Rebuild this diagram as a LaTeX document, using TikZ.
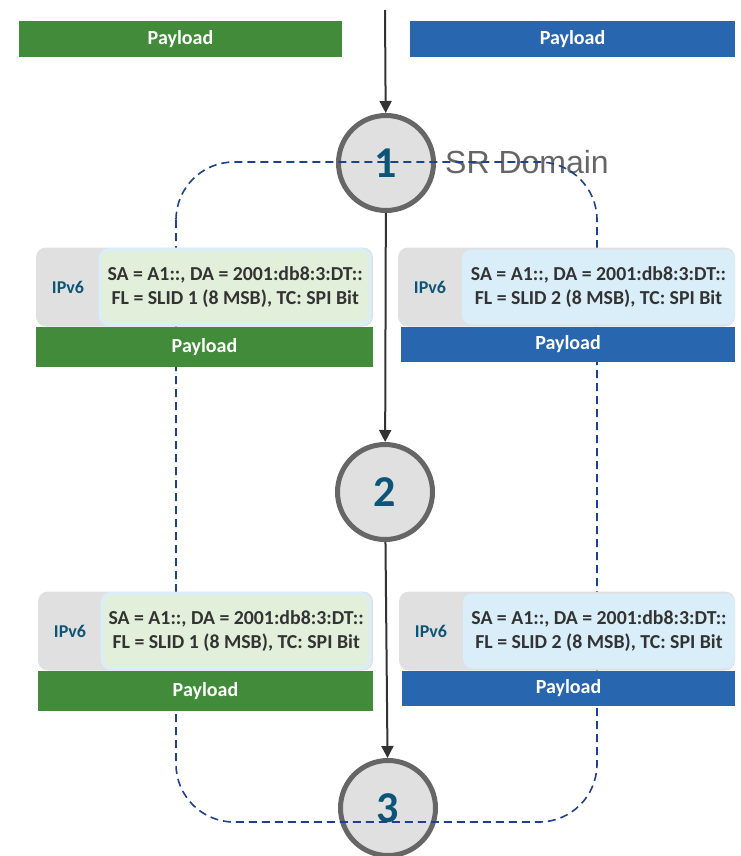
\documentclass[tikz,border=0pt]{standalone}
\usepackage{fontspec}
\setmainfont{Carlito}
\newfontfamily\arialfont{Liberation Sans}
\usetikzlibrary{arrows.meta,positioning}
\definecolor{verde}{HTML}{418B3A}
\definecolor{azul}{HTML}{2966B0}
\definecolor{grisclaro}{HTML}{E0E0E0}
\definecolor{borde}{HTML}{666666}
\definecolor{petroleo}{HTML}{0C5577}
\definecolor{verdeclaro}{HTML}{E2EFDA}
\definecolor{celeste}{HTML}{D9EEF8}
\definecolor{linea}{HTML}{1F3F8F}
\definecolor{texto}{HTML}{333333}

\begin{document}
\begin{tikzpicture}[x=1pt, y=-1pt,
        nodo/.style={circle, draw=borde, line width=5pt, fill=grisclaro, minimum size=95pt, inner sep=0pt, text=petroleo, font=\fontsize{44}{44}\selectfont\bfseries},
        carga/.style={inner sep=0pt, minimum height=#1, text=white, font=\fontsize{20}{20}\selectfont\bfseries},
        cabecera/.style={fill=grisclaro, rounded corners=10pt, inner sep=0pt, minimum height=79pt},
        campos/.style={rounded corners=9pt, inner sep=0pt, minimum height=75pt, align=center, text=texto, font=\fontsize{19.8}{24}\selectfont\bfseries},
        version/.style={inner sep=0pt, minimum width=64pt, text=petroleo, font=\fontsize{18}{18}\selectfont\bfseries},
        flecha/.style={-{Triangle[length=12pt, width=12pt]}, line width=2pt, draw=texto},
        dominio/.style={draw=linea, line width=1.6pt, dash pattern=on 8pt off 5pt, rounded corners=58pt}
    ]
        \useasboundingbox (0,0) rectangle (740,856);

        \node[carga=36pt, fill=verde, minimum width=323pt] (pv0) at (180.5,39) {Payload};
        \node[carga=36pt, fill=azul, minimum width=325pt] (pa0) at (572.5,39) {Payload};

        \coordinate (inicio) at (385,10);
        \node[nodo] (n1) at (386,163) {1};
        \node[nodo] (n2) at (385,492) {2};
        \node[nodo] (n3) at (388,808) {3};
        \node[anchor=base west, inner sep=0pt, text=borde, font=\arialfont\fontsize{32}{32}\selectfont] (dom) at (445,173) {SR Domain};

        \draw[flecha] (inicio) -- (n1);
        \draw[flecha] (n1) -- (n2);
        \draw[flecha] (n2) -- (n3);

        \draw[dominio] (176,162) rectangle (597,822);

        \node[cabecera, minimum width=337pt] (hv1) at (204.5,287) {};
        \node[campos, fill=verdeclaro, draw=celeste, line width=3pt, minimum width=270pt, anchor=east] (fv1) at ([xshift=-1.5pt]hv1.east) {SA = A1::, DA = 2001:db8:3:DT::\\FL = SLID 1 (8 MSB), TC: SPI Bit};
        \node[version, right=0pt of hv1.west] (iv1) {IPv6};
        \node[carga=40pt, fill=verde, minimum width=337pt, below=0pt of hv1] (pv1) {Payload};

        \node[cabecera, minimum width=337pt] (ha1) at (566.5,287) {};
        \node[campos, fill=celeste, minimum width=273pt, anchor=east] (fa1) at (ha1.east) {SA = A1::, DA = 2001:db8:3:DT::\\FL = SLID 2 (8 MSB), TC: SPI Bit};
        \node[version, right=0pt of ha1.west] (ia1) {IPv6};
        \node[carga=35pt, fill=azul, minimum width=334pt, below=0pt of ha1, xshift=1.5pt] (pa1) {Payload};

        \node[cabecera, minimum width=335pt] (hv2) at (205.5,631) {};
        \node[campos, fill=verdeclaro, draw=celeste, line width=3pt, minimum width=268pt, anchor=east] (fv2) at ([xshift=-1.5pt]hv2.east) {SA = A1::, DA = 2001:db8:3:DT::\\FL = SLID 1 (8 MSB), TC: SPI Bit};
        \node[version, right=0pt of hv2.west] (iv2) {IPv6};
        \node[carga=40pt, fill=verde, minimum width=335pt, below=0pt of hv2] (pv2) {Payload};

        \node[cabecera, minimum width=336pt] (ha2) at (567,631) {};
        \node[campos, fill=celeste, minimum width=272pt, anchor=east] (fa2) at (ha2.east) {SA = A1::, DA = 2001:db8:3:DT::\\FL = SLID 2 (8 MSB), TC: SPI Bit};
        \node[version, right=0pt of ha2.west] (ia2) {IPv6};
        \node[carga=35pt, fill=azul, minimum width=333pt, below=0pt of ha2, xshift=1.5pt] (pa2) {Payload};
    \end{tikzpicture}
\end{document}
